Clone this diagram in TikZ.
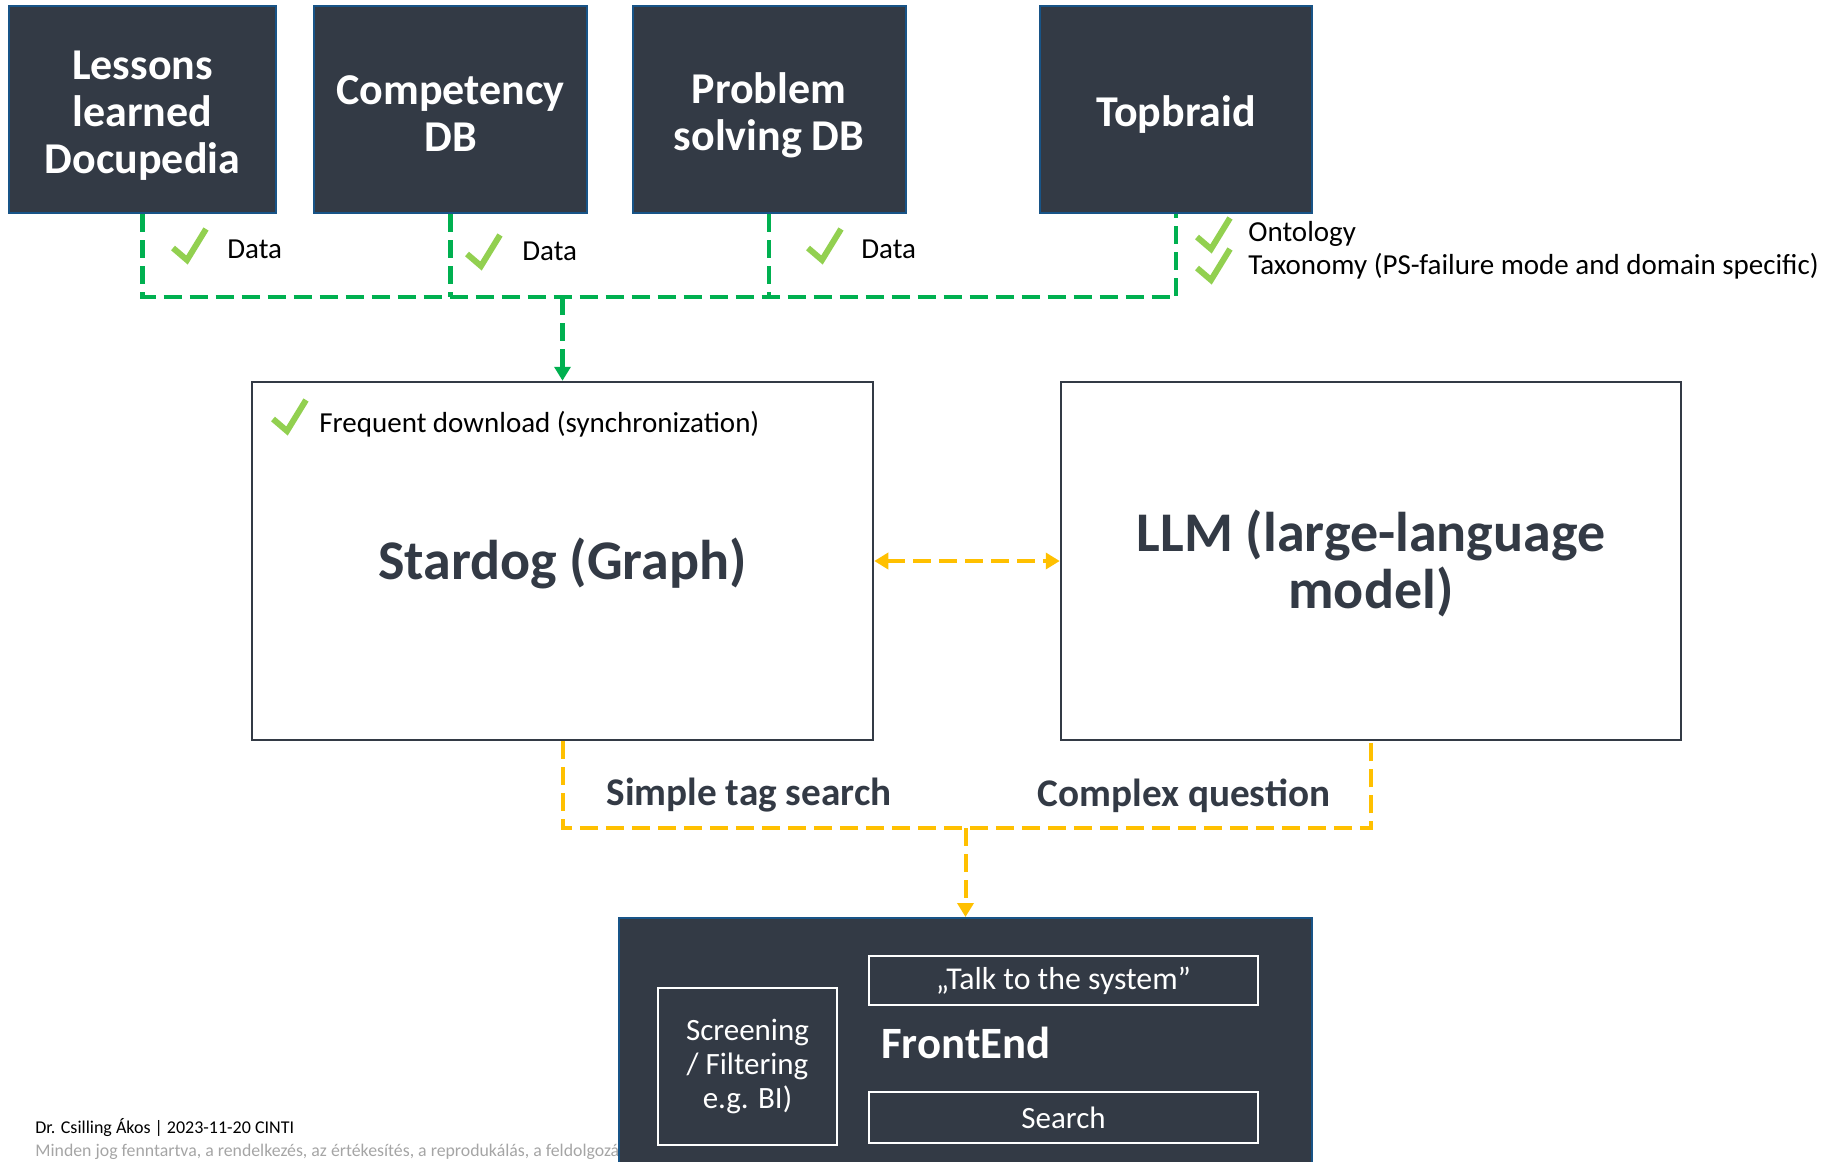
\documentclass[tikz,border=0pt]{standalone}
\usepackage{fontspec}
\setmainfont{Carlito}
\usetikzlibrary{arrows.meta}
\definecolor{darkbg}{RGB}{51,58,69}
\definecolor{boxborder}{RGB}{24,84,135}
\definecolor{dgreen}{RGB}{0,176,80}
\definecolor{chkgreen}{RGB}{146,208,80}
\definecolor{dyellow}{RGB}{255,192,0}
\definecolor{footgray}{RGB}{165,165,165}
\begin{document}
\begin{tikzpicture}[x=0.5pt,y=-0.5pt,
  darkbox/.style={draw=boxborder, line width=1pt, fill=darkbg, inner sep=0pt},
  darktext/.style={text=white, align=center, inner sep=0pt,
    font=\fontsize{22}{23.5}\selectfont\bfseries},
  whitebox/.style={draw=darkbg, line width=1.25pt, fill=white, inner sep=0pt},
  bigtext/.style={align=center, inner sep=0pt,
    font=\fontsize{28}{28.5}\selectfont\bfseries, text=darkbg},
  innerbox/.style={draw=white, line width=1.2pt, inner sep=0pt, align=center, text=white,
    font=\fontsize{15.5}{17}\selectfont},
  gline/.style={draw=dgreen, line width=2.25pt, dash pattern=on 9pt off 4pt},
  yline/.style={draw=dyellow, line width=2pt, dash pattern=on 9pt off 4pt},
  lbl/.style={anchor=west, inner sep=0pt, font=\fontsize{14.5}{16}\selectfont},
  blbl/.style={inner sep=0pt, text=darkbg, font=\fontsize{19.6}{21}\selectfont\bfseries},
  chk/.pic={\draw[line width=3pt, draw=chkgreen, line join=miter] (-16,3) -- (-2,15) -- (17,-16);}
]
\useasboundingbox (0,0) rectangle (1832,1162);

% top boxes
\node[darkbox, minimum width=133.5pt, minimum height=103.5pt] (lessons) at (142.5,109.5) {};
\node[darkbox, minimum width=136.5pt, minimum height=103.5pt] (comp) at (450.5,109.5) {};
\node[darkbox, minimum width=136.5pt, minimum height=103.5pt] (prob) at (769,109.5) {};
\node[darkbox, minimum width=136pt, minimum height=103.5pt] (top) at (1176,109.5) {};
\node[darktext] (lessons-t) at ([yshift=-3pt]lessons.center) {Lessons\\learned\\Docupedia};
\node[darktext] (comp-t) at ([yshift=-1.8pt]comp.center) {Competency\\DB};
\node[darktext] (prob-t) at ([yshift=-3pt]prob.center) {Problem\\solving DB};
\node[darktext] (top-t) at ([yshift=-2.3pt]top.center) {Topbraid};

% middle boxes
\node[whitebox, minimum width=310.5pt, minimum height=179pt] (sd) at (562.5,561) {};
\node[whitebox, minimum width=310pt, minimum height=179pt] (llm) at (1371,561) {};
\node[bigtext] (sd-t) at ([yshift=-1.2pt]sd.center) {Stardog (Graph)};
\node[bigtext] (llm-t) at ([yshift=-1.2pt]llm.center) {LLM (large-language\\model)};

% green connectors
\coordinate (gj) at (562.5,297);
\draw[gline] (lessons.south) |- (gj) -| (top.south);
\draw[gline] (comp.south) -- (comp.south |- gj);
\draw[gline] (prob.south) -- (prob.south |- gj);
\draw[gline, -{Triangle[width=8pt,length=7pt]}, dgreen] (gj) -- (sd.north);

% labels with checks
\pic at (189,245) {chk};
\node[lbl] (d1) at (227,249) {Data};
\pic at (483,251) {chk};
\node[lbl] (d2) at (522,251) {Data};
\pic at (824,245) {chk};
\node[lbl] (d3) at (861,249) {Data};
\pic at (1213,234) {chk};
\node[lbl] (onto) at (1248,234) {Ontology};
\pic at (1213,265) {chk};
\node[lbl] (taxo) at (1248,266) {Taxonomy (PS-failure mode and domain specific)};
\pic at (289,416) {chk};
\node[lbl] (freq) at (319,424) {Frequent download (synchronization)};

% yellow connectors
\draw[yline, {Triangle[width=8pt,length=7pt]}-{Triangle[width=8pt,length=7pt]}, dyellow] (sd.east) -- (llm.west);

% footer
\node[anchor=west, inner sep=0pt, font=\fontsize{9}{10}\selectfont] (ft1) at (35,1128) {Dr. Csilling Ákos | 2023-11-20 CINTI};
\node[anchor=west, inner sep=0pt, text=footgray, font=\fontsize{8.9}{10}\selectfont] (ft2) at (35,1152) {Minden jog fenntartva, a rendelkezés, az értékesítés, a reprodukálás, a feldolgozá};

% frontend
\node[darkbox, minimum width=346.5pt, minimum height=128.5pt] (fe) at (965.5,1046.5) {};
\node[innerbox, minimum width=89.5pt, minimum height=78.5pt] (scr) at (747.5,1066.5) {Screening\\/ Filtering\\e.g. BI)};
\node[innerbox, minimum width=194.5pt, minimum height=24.5pt, font=\fontsize{15.9}{17}\selectfont] (talk) at (1063.5,980.5) {„Talk to the system”};
\node[innerbox, minimum width=194.5pt, minimum height=25.5pt] (search) at (1063.5,1117.5) {Search};
\node[anchor=west, inner sep=0pt, text=white, font=\fontsize{22.4}{24}\selectfont\bfseries] (fet) at (881,1043) {FrontEnd};

\coordinate (yj) at (965.5,828);
\draw[yline] (sd.south) |- (yj) -| (llm.south);
\draw[yline, -{Triangle[width=8pt,length=7pt]}, dyellow] (yj) -- (fe.north);
\node[blbl] (simple) at (749,795) {Simple tag search};
\node[blbl] (complex) at (1184,796) {Complex question};
\end{tikzpicture}
\end{document}
